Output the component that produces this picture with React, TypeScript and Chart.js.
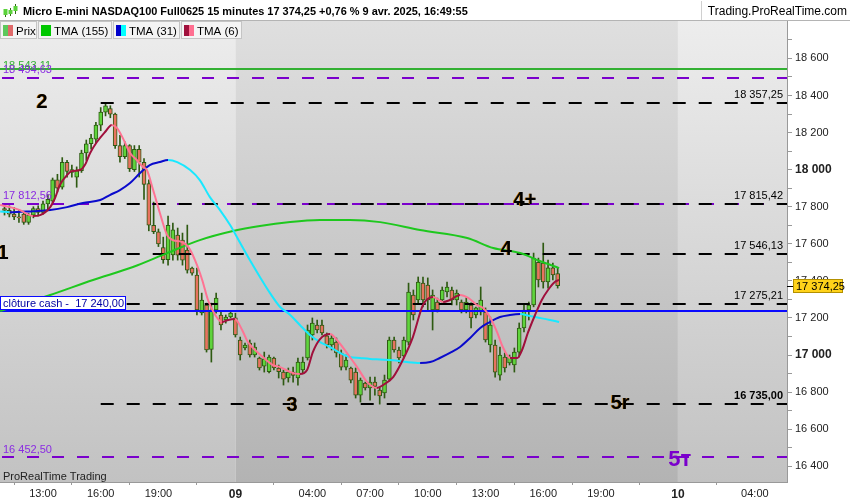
import React, { useEffect, useRef } from "react";
import { Chart, registerables } from "chart.js";

Chart.register(...registerables);

const FONT = '"Liberation Sans", Arial, Helvetica, sans-serif';

// 15-minute candles. Bar index 0 = 8 avr. 11:00 ; the 23:00–00:00 session break is not plotted.
const candleOpen = [
  17790, 17780, 17760, 17745, 17760, 17715, 17755, 17790, 17770, 17815,
  17830, 17945, 17905, 18040, 18000, 17960, 17995, 18090, 18140, 18165,
  18240, 18310, 18330, 18300, 18130, 18070, 18130, 18000, 18110, 18040,
  17925, 17700, 17665, 17580, 17515, 17540, 17647, 17620, 17566, 17469,
  17431, 17227, 17270, 17030, 17243, 17216, 17190, 17205, 17200, 17081,
  17038, 17065, 17000, 16984, 16940, 16910, 16984, 16930, 16908, 16876,
  16908, 16876, 16919, 16984, 17108, 17162, 17162, 17103, 17054, 17070,
  17011, 16935, 16930, 16908, 16784, 16849, 16822, 16854, 16811, 16795,
  16870, 17081, 17027, 16995, 17070, 17324, 17297, 17388, 17378, 17243,
  17286, 17297, 17340, 17351, 17297, 17286, 17243, 17270, 17216, 17232,
  17232, 17054, 17054, 16892, 16989, 16957, 16946, 17016, 17146, 17243,
  17270, 17500, 17496, 17394, 17470, 17440,
];
const candleHigh = [
  17815, 17805, 17795, 17785, 17770, 17765, 17800, 17805, 17830, 17865,
  17955, 17975, 18065, 18050, 18025, 18015, 18105, 18160, 18190, 18255,
  18335, 18357, 18345, 18305, 18185, 18150, 18135, 18130, 18130, 18060,
  17945, 17825, 17680, 17636, 17750, 17712, 17685, 17658, 17701, 17475,
  17469, 17334, 17280, 17280, 17334, 17232, 17216, 17232, 17226, 17097,
  17065, 17081, 17065, 16989, 17016, 17000, 16989, 16946, 16919, 16930,
  16935, 16984, 16989, 17162, 17200, 17189, 17189, 17119, 17108, 17092,
  17027, 17000, 16935, 16930, 16876, 16854, 16881, 16881, 16827, 16892,
  17097, 17097, 17043, 17097, 17388, 17351, 17421, 17421, 17416, 17351,
  17307, 17367, 17394, 17367, 17351, 17297, 17308, 17281, 17259, 17367,
  17254, 17205, 17081, 17043, 17011, 17000, 17038, 17173, 17270, 17286,
  17550, 17523, 17604, 17512, 17496, 17469,
];
const candleLow = [
  17755, 17745, 17730, 17715, 17705, 17705, 17740, 17750, 17760, 17785,
  17820, 17880, 17895, 17960, 17960, 17905, 17985, 18050, 18110, 18145,
  18210, 18290, 18280, 18115, 18040, 18060, 17990, 17990, 17960, 17840,
  17670, 17655, 17585, 17495, 17485, 17512, 17512, 17485, 17442, 17431,
  17216, 17216, 17016, 16962, 17226, 17135, 17172, 17200, 17097, 16973,
  17027, 16989, 16989, 16919, 16908, 16903, 16919, 16876, 16838, 16854,
  16854, 16838, 16903, 16973, 17081, 17119, 17108, 17038, 17027, 16989,
  16919, 16919, 16849, 16768, 16746, 16811, 16757, 16784, 16735, 16768,
  16860, 17016, 16957, 16984, 17054, 17189, 17280, 17259, 17243, 17135,
  17232, 17286, 17313, 17270, 17270, 17227, 17227, 17146, 17200, 17216,
  17070, 17016, 16881, 16865, 16908, 16946, 16908, 16989, 17124, 17189,
  17260, 17367, 17361, 17361, 17405, 17361,
];
const candleClose = [
  17780, 17760, 17745, 17740, 17715, 17755, 17790, 17770, 17815, 17840,
  17945, 17900, 18040, 17990, 17985, 17995, 18090, 18140, 18170, 18240,
  18310, 18345, 18300, 18130, 18070, 18130, 18005, 18110, 18040, 17920,
  17700, 17665, 17600, 17515, 17700, 17675, 17539, 17512, 17458, 17442,
  17243, 17297, 17027, 17243, 17307, 17162, 17205, 17226, 17108, 17000,
  17054, 17000, 17043, 16930, 16980, 16989, 16930, 16910, 16870, 16908,
  16890, 16962, 16962, 17135, 17172, 17135, 17119, 17054, 17092, 17011,
  16935, 16973, 16865, 16784, 16865, 16822, 16854, 16830, 16780, 16865,
  17081, 17027, 16984, 17081, 17340, 17216, 17394, 17297, 17297, 17324,
  17243, 17351, 17367, 17297, 17334, 17243, 17286, 17200, 17254, 17297,
  17081, 17162, 16908, 17000, 16930, 16989, 17016, 17146, 17243, 17270,
  17523, 17405, 17394, 17470, 17432, 17374.25,
];

// Indicator curves: [bar index, value]
const tma155Pts: [number, number][] = [
  [-0.9, 17237], [9.5, 17324], [18.4, 17405], [26.7, 17475], [33.8, 17550],
  [40.6, 17620], [47.5, 17669], [53.1, 17696], [59.4, 17717], [65.6, 17728],
  [71.8, 17729], [78.1, 17717], [86.4, 17674], [96.2, 17631], [101.6, 17577],
  [107.2, 17550], [111.3, 17507], [115.3, 17469],
];
const tma31Pts: [number, number][] = [
  [-0.9, 17774], [1.1, 17770], [5.9, 17776], [9.5, 17782], [13.0, 17798],
  [16.3, 17820], [19.9, 17836], [21.9, 17863], [24.0, 17890], [26.1, 17928],
  [28.2, 17982], [30.2, 18025], [32.3, 18041], [34.0, 18052], [35.9, 18041],
  [38.6, 17998], [40.6, 17944], [42.7, 17852], [44.8, 17782], [46.9, 17701],
  [49.0, 17604], [51.0, 17512], [53.1, 17421], [55.2, 17334], [57.3, 17259],
  [59.4, 17216], [61.4, 17162], [63.5, 17108], [65.6, 17070], [67.7, 17043],
  [69.8, 17011], [71.8, 16989], [73.9, 16984], [76.0, 16979], [78.1, 16976],
  [80.8, 16972], [83.7, 16962], [86.4, 16957], [88.5, 16962], [90.5, 16984],
  [92.6, 17011], [94.7, 17043], [96.8, 17092], [98.9, 17146], [100.9, 17178],
  [103.0, 17205], [105.1, 17216], [107.2, 17221], [109.3, 17210], [111.3, 17200],
  [113.4, 17189], [115.3, 17178],
];
const tma6Pts: [number, number][] = [
  [-0.9, 17809], [1.1, 17798], [3.2, 17782], [5.9, 17750], [7.4, 17755],
  [9.5, 17798], [10.5, 17847], [11.5, 17917], [13.0, 17971], [14.0, 17992],
  [15.7, 17998], [16.7, 18025], [17.8, 18090], [19.2, 18149], [20.9, 18203],
  [22.3, 18241], [23.4, 18224], [24.6, 18170], [26.1, 18090], [27.5, 18052],
  [28.8, 18014], [29.6, 17998], [30.9, 17890], [32.3, 17766], [33.8, 17647],
  [35.0, 17620], [36.9, 17610], [38.2, 17583], [39.6, 17512], [41.1, 17405],
  [42.3, 17297], [43.8, 17216], [45.2, 17178], [46.5, 17189], [47.9, 17194],
  [49.4, 17135], [50.6, 17070], [52.1, 17027], [53.7, 16989], [55.8, 16946],
  [57.3, 16935], [59.4, 16908], [61.4, 16897], [62.9, 16919], [64.1, 17016],
  [65.6, 17086], [67.7, 17113], [69.1, 17081], [71.2, 17011], [73.3, 16935],
  [75.4, 16854], [77.4, 16822], [78.7, 16838], [80.8, 16881], [82.8, 16973],
  [84.9, 17097], [87.0, 17270], [89.1, 17313], [91.2, 17286], [92.6, 17297],
  [94.7, 17324], [96.4, 17308], [98.2, 17270], [99.5, 17254], [100.9, 17205],
  [102.4, 17124], [103.6, 17043], [105.1, 16984], [106.6, 16984], [107.6, 17027],
  [108.8, 17119], [110.3, 17216], [111.7, 17297], [113.0, 17351], [114.4, 17394],
  [115.3, 17405],
];

const xTickIndex = [8, 20, 32, 48, 64, 76, 88, 100, 112, 124, 140, 156];
const xTickText = ["13:00", "16:00", "19:00", "09", "04:00", "07:00", "10:00", "13:00", "16:00", "19:00", "10", "04:00"];
const dayStartIndex = [48, 140];
const yTickMax = 18700;

const levelGreen = 18543.11;
const levelsPurple = [18494.63, 17812.56, 16452.5];
const levelsBlack = [18357.25, 17815.42, 17546.13, 17275.21, 16735.0];
const levelCash = 17240.0;
const lastPrice = 17374.25;
const pctChange = "+0,76 %";
const titleText = "Micro E-mini NASDAQ100 Full0625 15 minutes";
const dateText = "9 avr. 2025, 16:49:55";
const blackLabelsFrom = 20;

const waveLabels = [
  { text: "1", x: -0.3, y: 17550 },
  { text: "2", x: 7.8, y: 18365 },
  { text: "3", x: 59.8, y: 16730 },
  { text: "4", x: 104.3, y: 17572 },
  { text: "4+", x: 108.2, y: 17836 },
  { text: "5r", x: 128.0, y: 16736 },
];
const wavePurpleLabels = [{ text: "5т", x: 140.4, y: 16434 }];

const X_MIN = -0.94;
const X_MAX = 162.68;
const Y_MIN = 16315;
const Y_MAX = 18802;

function fmt2(v: number): string {
  const [i, d] = v.toFixed(2).split(".");
  return i.replace(/\B(?=(\d{3})+(?!\d))/g, " ") + "," + d;
}
function fmt0(v: number): string {
  return String(Math.round(v)).replace(/\B(?=(\d{3})+(?!\d))/g, " ");
}

const COL_PURPLE = "#7a00cc";
const COL_BLACK = "#000000";

function hline(ctx: CanvasRenderingContext2D, x0: number, x1: number, y: number, color: string, w: number, dash: number[]) {
  ctx.save();
  ctx.strokeStyle = color;
  ctx.lineWidth = w;
  ctx.setLineDash(dash);
  ctx.beginPath();
  ctx.moveTo(x0, y);
  ctx.lineTo(x1, y);
  ctx.stroke();
  ctx.restore();
}

const bgPlugin = {
  id: "bgPlugin",
  beforeDraw(chart: any) {
    const { ctx, chartArea, scales } = chart;
    const { left, top, right, bottom } = chartArea;
    ctx.save();
    ctx.fillStyle = "#ffffff";
    ctx.fillRect(0, 0, chart.width, chart.height);
    const light = ctx.createLinearGradient(0, top, 0, bottom);
    light.addColorStop(0, "#ededed");
    light.addColorStop(1, "#c2c2c2");
    const dark = ctx.createLinearGradient(0, top, 0, bottom);
    dark.addColorStop(0, "#dfdfdf");
    dark.addColorStop(1, "#b3b3b3");
    const d1 = scales.x.getPixelForValue(dayStartIndex[0]);
    const d2 = scales.x.getPixelForValue(dayStartIndex[1]);
    ctx.fillStyle = light;
    ctx.fillRect(left, top, d1 - left, bottom - top);
    ctx.fillRect(d2, top, right - d2, bottom - top);
    ctx.fillStyle = dark;
    ctx.fillRect(d1, top, d2 - d1, bottom - top);
    ctx.restore();
  },
};

const levelPlugin = {
  id: "levelPlugin",
  afterDatasetDraw(chart: any, args: any) {
    if (args.index !== 1) return;
    const { ctx, chartArea, scales } = chart;
    const { left, top, right, bottom } = chartArea;
    ctx.save();
    ctx.beginPath();
    ctx.rect(left, top, right - left, bottom - top);
    ctx.clip();
    const yy = (v: number) => Math.round(scales.y.getPixelForValue(v));
    hline(ctx, left, right, yy(levelGreen), "#33b033", 2, []);
    for (const v of levelsPurple) hline(ctx, left + 2, right, yy(v), COL_PURPLE, 2, [12, 13]);
    const xs = scales.x.getPixelForValue(blackLabelsFrom);
    for (const v of levelsBlack) hline(ctx, xs, right, yy(v), COL_BLACK, 2, [13, 13]);
    hline(ctx, left, right, yy(levelCash), "#0a0aff", 2, []);
    ctx.restore();
  },
};

const overlayPlugin = {
  id: "overlayPlugin",
  afterDraw(chart: any) {
    const { ctx, chartArea, scales } = chart;
    const { left, right, bottom } = chartArea;
    const W = chart.width;
    const yy = (v: number) => scales.y.getPixelForValue(v);
    const xx = (v: number) => scales.x.getPixelForValue(v);
    ctx.save();

    // level labels (right side)
    ctx.textBaseline = "alphabetic";
    ctx.textAlign = "right";
    levelsBlack.forEach((v, i) => {
      ctx.font = (i === levelsBlack.length - 1 ? "bold " : "") + "11px " + FONT;
      ctx.fillStyle = "#000";
      ctx.fillText(fmt2(v), right - 4, yy(v) - 5);
    });
    // left labels
    ctx.textAlign = "left";
    ctx.font = "11px " + FONT;
    ctx.fillStyle = "#33b033";
    ctx.fillText(fmt2(levelGreen), left + 3, yy(levelsPurple[0]) - 9);
    ctx.fillStyle = "#8a2be2";
    ctx.fillText(fmt2(levelsPurple[0]), left + 3, yy(levelsPurple[0]) - 5);
    ctx.fillText(fmt2(levelsPurple[1]), left + 3, yy(levelsPurple[1]) - 5);
    ctx.fillText(fmt2(levelsPurple[2]), left + 3, yy(levelsPurple[2]) - 4);

    // cash label box
    const yc = Math.round(yy(levelCash));
    ctx.fillStyle = "#ffffff";
    ctx.fillRect(0, yc - 14, 126, 13);
    ctx.strokeStyle = "#0a0aff";
    ctx.lineWidth = 1;
    ctx.strokeRect(0.5, yc - 14.5, 125, 13);
    ctx.fillStyle = "#0000a0";
    ctx.font = "11px " + FONT;
    ctx.fillText("clôture cash -  " + fmt2(levelCash), 3, yc - 4);

    // wave labels
    ctx.textAlign = "center";
    ctx.textBaseline = "middle";
    ctx.font = "bold 20px " + FONT;
    for (const a of waveLabels) {
      ctx.fillStyle = "#d07a00";
      ctx.fillText(a.text, xx(a.x) - 0.7, yy(a.y));
      ctx.fillStyle = "#000";
      ctx.fillText(a.text, xx(a.x), yy(a.y));
    }
    ctx.font = "bold 22px " + FONT;
    ctx.fillStyle = COL_PURPLE;
    for (const a of wavePurpleLabels) ctx.fillText(a.text, xx(a.x), yy(a.y));

    // footer
    ctx.textAlign = "left";
    ctx.textBaseline = "alphabetic";
    ctx.font = "11px " + FONT;
    ctx.fillStyle = "#222";
    ctx.fillText("ProRealTime Trading", 3, bottom - 2);

    // price tag
    const yp = Math.round(yy(lastPrice));
    ctx.strokeStyle = "#000";
    ctx.beginPath();
    ctx.moveTo(right, yp + 0.5);
    ctx.lineTo(right + 6, yp + 0.5);
    ctx.stroke();
    ctx.fillStyle = "#ffd21a";
    ctx.fillRect(right + 6, yp - 7, 50, 14);
    ctx.strokeStyle = "#b39000";
    ctx.strokeRect(right + 6.5, yp - 6.5, 49, 13);
    ctx.fillStyle = "#000";
    ctx.font = "11px " + FONT;
    ctx.textBaseline = "middle";
    ctx.fillText(fmt2(lastPrice), right + 9, yp + 0.5);

    // header bar
    ctx.fillStyle = "#ffffff";
    ctx.fillRect(0, 0, W, 21);
    ctx.strokeStyle = "#b4b4b4";
    ctx.beginPath();
    ctx.moveTo(0, 20.5);
    ctx.lineTo(W, 20.5);
    ctx.stroke();
    // icon
    const icon = [
      [5, 12, 17, 9, 15],
      [10, 8, 16, 10, 14],
      [15, 4, 14, 6, 11],
    ];
    for (const [cx, hi, lo, bt, bb] of icon) {
      ctx.fillStyle = "#2f6a12";
      ctx.fillRect(cx, hi, 1, lo - hi);
      ctx.fillStyle = "#5ad23a";
      ctx.fillRect(cx - 1.5, bt, 4, bb - bt);
    }
    ctx.textBaseline = "alphabetic";
    const title = `${titleText} ${fmt2(lastPrice)} ${pctChange} ${dateText}`;
    ctx.font = "bold 12px " + FONT;
    const tw = ctx.measureText(title).width;
    const fs = Math.min(13, (12 * 445) / tw);
    ctx.font = `bold ${fs.toFixed(2)}px ` + FONT;
    ctx.fillStyle = "#000";
    ctx.fillText(title, 23, 15);
    ctx.font = "12px " + FONT;
    ctx.textAlign = "right";
    ctx.fillText("Trading.ProRealTime.com", W - 3, 15);
    ctx.strokeStyle = "#d0d0d0";
    ctx.beginPath();
    ctx.moveTo(W - 148.5, 1);
    ctx.lineTo(W - 148.5, 20);
    ctx.stroke();

    // legend boxes
    const boxes = [
      { x: 0, w: 37, label: "Prix", c1: "#5cc85c", c2: "#e06a6a" },
      { x: 38, w: 74, label: "TMA (155)", c1: "#00c800", c2: "#00c800" },
      { x: 113, w: 67, label: "TMA (31)", c1: "#0000cc", c2: "#00ffff" },
      { x: 181, w: 61, label: "TMA (6)", c1: "#a0103c", c2: "#ff6f91" },
    ];
    ctx.textAlign = "left";
    for (const b of boxes) {
      ctx.fillStyle = "#f4f4f4";
      ctx.fillRect(b.x, 21, b.w, 18);
      ctx.strokeStyle = "#c4c4c4";
      ctx.strokeRect(b.x + 0.5, 21.5, b.w - 1, 17);
      ctx.fillStyle = b.c1;
      ctx.fillRect(b.x + 3, 25, 5, 11);
      ctx.fillStyle = b.c2;
      ctx.fillRect(b.x + 8, 25, 5, 11);
      ctx.fillStyle = "#000";
      ctx.font = "11.5px " + FONT;
      ctx.fillText(b.label, b.x + 16, 34.5);
    }
    ctx.restore();
  },
};

export default function App() {
  const ref = useRef<HTMLCanvasElement | null>(null);
  useEffect(() => {
    document.body.style.margin = "0";
    const canvas = ref.current;
    if (!canvas) return;
    const bodyData = candleOpen.map((o, i) => ({ x: i, y: [o, candleClose[i]] }));
    const wickData = candleOpen.map((_, i) => ({ x: i, y: [candleLow[i], candleHigh[i]] }));
    const bodyColors = candleOpen.map((o, i) => (candleClose[i] >= o ? "#5fd43c" : "#e8735f"));
    const toXY = (pts: [number, number][]) => pts.map(([x, y]) => ({ x, y }));
    const slopeColor = (up: string, down: string) => (c: any) => (c.p1.parsed.y >= c.p0.parsed.y ? up : down);

    const chart = new Chart(canvas, {
      type: "bar",
      data: {
        datasets: [
          {
            type: "bar",
            label: "wick",
            data: wickData as any,
            backgroundColor: "#2e5a12",
            barThickness: 1,
            grouped: false,
            order: 5,
          } as any,
          {
            type: "bar",
            label: "body",
            data: bodyData as any,
            backgroundColor: bodyColors,
            borderColor: "#2e5a12",
            borderWidth: 1,
            borderSkipped: false,
            barThickness: 4,
            grouped: false,
            order: 4,
          } as any,
          {
            type: "line",
            label: "TMA (155)",
            data: toXY(tma155Pts),
            borderColor: "#1ec81e",
            borderWidth: 2,
            pointRadius: 0,
            cubicInterpolationMode: "monotone",
            order: 3,
          } as any,
          {
            type: "line",
            label: "TMA (31)",
            data: toXY(tma31Pts),
            borderColor: "#0a0acc",
            borderWidth: 2,
            pointRadius: 0,
            cubicInterpolationMode: "monotone",
            segment: { borderColor: slopeColor("#0a0acc", "#19e8ff") },
            order: 2,
          } as any,
          {
            type: "line",
            label: "TMA (6)",
            data: toXY(tma6Pts),
            borderColor: "#a0103c",
            borderWidth: 2,
            pointRadius: 0,
            cubicInterpolationMode: "monotone",
            segment: { borderColor: slopeColor("#a0103c", "#ff7393") },
            order: 1,
          } as any,
        ],
      },
      options: {
        animation: false,
        responsive: false,
        events: [],
        layout: { padding: { top: 21, left: 0, right: 0, bottom: 0 } },
        plugins: { legend: { display: false }, tooltip: { enabled: false }, title: { display: false } },
        scales: {
          x: {
            type: "linear",
            min: X_MIN,
            max: X_MAX,
            offset: false,
            afterBuildTicks: (s: any) => {
              s.ticks = xTickIndex.map((v) => ({ value: v }));
            },
            afterFit: (s: any) => {
              s.height = 18;
            },
            ticks: {
              autoSkip: false,
              maxRotation: 0,
              padding: 2,
              color: "#222",
              callback: (_v: any, i: number) => xTickText[i],
              font: (c: any) =>
                c.index === 3 || c.index === 10
                  ? { family: FONT, size: 12, weight: "bold" }
                  : { family: FONT, size: 11 },
            },
            grid: { drawOnChartArea: false, tickLength: 3, color: "#999" },
            border: { color: "#999" },
          },
          y: {
            position: "right",
            min: Y_MIN,
            max: Y_MAX,
            afterFit: (s: any) => {
              s.width = 63;
            },
            afterBuildTicks: (s: any) => {
              s.ticks = s.ticks.filter((t: any) => t.value <= yTickMax);
            },
            ticks: {
              stepSize: 100,
              includeBounds: false,
              autoSkip: false,
              padding: 3,
              color: "#222",
              callback: (v: any) => (Number(v) % 200 === 0 ? fmt0(Number(v)) : ""),
              font: (c: any) =>
                c.tick && c.tick.value % 1000 === 0
                  ? { family: FONT, size: 12, weight: "bold" }
                  : { family: FONT, size: 11 },
            },
            grid: { drawOnChartArea: false, tickLength: 5, color: "#999" },
            border: { color: "#999" },
          },
        },
      } as any,
      plugins: [bgPlugin, levelPlugin, overlayPlugin],
    });
    return () => chart.destroy();
  }, []);
  return (
    <div style={{ position: "absolute", left: 0, top: 0, width: 850, height: 500, background: "#fff" }}>
      <canvas ref={ref} width={850} height={500} style={{ width: 850, height: 500, display: "block" }} />
    </div>
  );
}
